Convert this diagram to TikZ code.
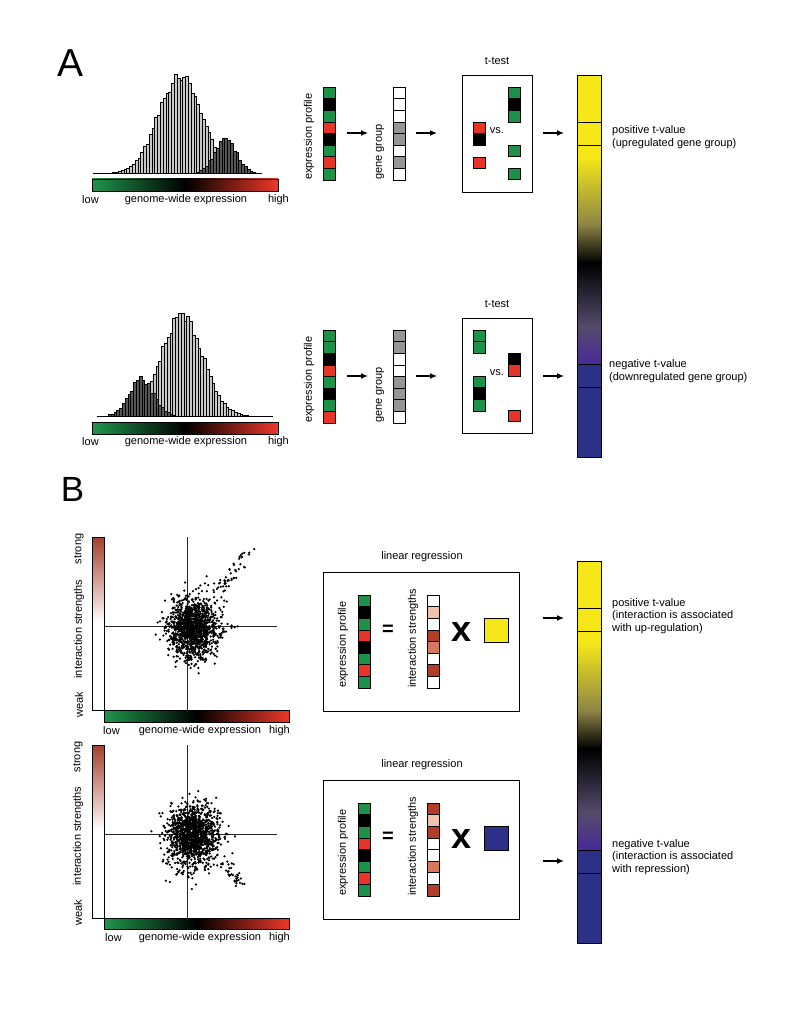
\documentclass[tikz,border=0pt]{standalone}
\usepackage{fontspec}
\setmainfont{Liberation Sans}
\usetikzlibrary{arrows.meta}
\definecolor{cgreen}{RGB}{28,146,72}
\definecolor{cred}{RGB}{232,52,38}
\definecolor{cgray}{RGB}{150,150,150}
\definecolor{ilight}{RGB}{240,195,175}
\definecolor{imid}{RGB}{215,120,90}
\definecolor{ibrown}{RGB}{178,62,42}
\definecolor{tyellow}{RGB}{246,232,24}
\definecolor{tolive}{RGB}{140,132,70}
\definecolor{tgrayp}{RGB}{85,75,108}
\definecolor{tpurple}{RGB}{72,42,150}
\definecolor{tblue}{RGB}{45,48,135}
\definecolor{hlight}{RGB}{200,200,200}
\definecolor{hdark}{RGB}{85,85,85}
\definecolor{sbrown}{RGB}{165,62,40}
\definecolor{gbgreen}{RGB}{30,150,75}
\definecolor{gbred}{RGB}{238,55,40}

\newcommand\cellcolumn[3]{%
  \foreach \cl [count=\ci from 0] in {#3}{%
    \path[cell, fill=\cl] (#1,{#2+\ci*11.625}) rectangle ++(12,11.625);}%
}
\newcommand\tbar[2]{%
  \fill[tyellow] (577,#1) rectangle (601,{#1+82});
  \shade[top color=tyellow, bottom color=tolive] (577,{#1+81.5}) rectangle (601,{#1+150});
  \shade[top color=tolive, bottom color=black] (577,{#1+149.5}) rectangle (601,{#1+188});
  \shade[top color=black, bottom color=tgrayp] (577,{#1+187.5}) rectangle (601,{#1+252});
  \shade[top color=tgrayp, bottom color=tpurple] (577,{#1+251.5}) rectangle (601,{#1+289});
  \fill[tblue] (577,{#1+289}) rectangle (601,{#1+382});
  \draw[bline] (577,#1) rectangle (601,{#1+382});
  \foreach \o in {47,70,289,312} \draw[bline] (577,{#1+\o}) -- (601,{#1+\o});
  \coordinate (#2) at (577,#1);
}
% gaussian scatter cloud: seed, cx, cy, sdx, sdy, count
\newcommand\cloud[6]{%
  \pgfmathsetseed{#1}
  \foreach \k in {1,...,#6}{
    \pgfmathsetmacro\ua{0.001+0.999*rnd}
    \pgfmathsetmacro\ub{360*rnd}
    \pgfmathsetmacro\rr{sqrt(-2*ln(\ua))}
    \pgfmathsetmacro\px{#2+#4*\rr*cos(\ub)}
    \pgfmathsetmacro\py{#3+#5*\rr*sin(\ub)}
    \fill[dot] (\px,\py) circle[radius=1.25pt];
  }%
}

\begin{document}
\begin{tikzpicture}[x=1pt,y=-1pt,
  lbl/.style={font=\fontsize{11}{12.5}\selectfont, inner sep=0, align=left},
  cell/.style={draw=black, line width=0.6pt},
  bline/.style={draw=black, line width=0.7pt},
  hbar/.style={draw=black, line width=0.35pt},
  arr/.style={-{Latex[length=7pt,width=6pt]}, line width=1.2pt},
  boxst/.style={draw=black, line width=0.8pt},
  axline/.style={draw=black!85, line width=0.7pt},
  dot/.style={fill=black}]
\useasboundingbox (0,0) rectangle (785,1016);

% ---------------- A ----------------
\node[font=\fontsize{39}{40}\selectfont, inner sep=0] (labA) at (71,63) {A};

% histogram A top
\pgfmathsetseed{5}
\foreach \i in {0,...,59}{
  \pgfmathsetmacro\xx{93+2.8*\i}
  \pgfmathsetmacro\sd{(\xx<178)?21:22}
  \pgfmathsetmacro\zz{min(0.5*((\xx-178)/\sd)*((\xx-178)/\sd),12)}
  \pgfmathsetmacro\hh{97*exp(-\zz)*(1+0.08*rand)}
  \ifdim\hh pt>0.6pt \path[hbar, fill=hlight] (\xx,173) rectangle ++(2.8,-\hh);\fi
}
\foreach \i in {0,...,59}{
  \pgfmathsetmacro\xx{93+2.8*\i}
  \pgfmathsetmacro\zz{min(0.5*((\xx-224)/11)*((\xx-224)/11),12)}
  \pgfmathsetmacro\hh{33*exp(-\zz)*(1+0.12*rand)}
  \ifdim\hh pt>0.8pt \path[hbar, fill=hdark] (\xx,173) rectangle ++(2.8,-\hh);\fi
}
\draw[line width=0.5pt] (93,173) -- (262,173);
\shade[left color=gbgreen, right color=gbred, middle color=black] (92,179) rectangle (278,191);
\draw[line width=0.5pt] (92,179) rectangle (278,191);
\node[lbl, anchor=west] (lowA1) at (82,200) {low};
\node[lbl] (gweA1) at (186,200) {genome-wide expression};
\node[lbl, anchor=east] (highA1) at (289,200) {high};

% columns A top
\node[lbl, rotate=90, anchor=west] (epA1) at (309,180) {expression profile};
\cellcolumn{323}{87}{cgreen,black,cgreen,cred,black,cgreen,cred,cgreen}
\coordinate (colEA1) at (323,87);
\node[lbl, rotate=90, anchor=west] (ggA1) at (380,180) {gene group};
\cellcolumn{393}{87}{white,white,white,cgray,cgray,white,cgray,white}
\coordinate (colGA1) at (393,87);
\coordinate (a1s) at (347,133); \coordinate (a1e) at (368,133);
\coordinate (a2s) at (416,133); \coordinate (a2e) at (437,133);
\coordinate (a3s) at (543,133); \coordinate (a3e) at (564,133);
\draw[arr] (a1s) -- (a1e);
\draw[arr] (a2s) -- (a2e);
\draw[arr] (a3s) -- (a3e);

% t-test box A top
\node[lbl] (ttA1) at (497,61) {t-test};
\draw[boxst] (462,75) rectangle (532,192);
\cellcolumn{473}{122}{cred,black}
\cellcolumn{473}{157}{cred}
\cellcolumn{508}{87}{cgreen,black,cgreen}
\cellcolumn{508}{145}{cgreen}
\cellcolumn{508}{168}{cgreen}
\node[lbl] (vsA1) at (497,131) {vs.};

% histogram A bottom
\pgfmathsetseed{9}
\foreach \i in {0,...,62}{
  \pgfmathsetmacro\xx{97+2.8*\i}
  \pgfmathsetmacro\sd{(\xx<180)?20:21}
  \pgfmathsetmacro\zz{min(0.5*((\xx-180)/\sd)*((\xx-180)/\sd),12)}
  \pgfmathsetmacro\hh{(\xx<146)?0:100*exp(-\zz)*(1+0.08*rand)}
  \ifdim\hh pt>0.6pt \path[hbar, fill=hlight] (\xx,416) rectangle ++(2.8,-\hh);\fi
}
\foreach \i in {0,...,62}{
  \pgfmathsetmacro\xx{97+2.8*\i}
  \pgfmathsetmacro\zz{min(0.5*((\xx-140)/12.5)*((\xx-140)/12.5),12)}
  \pgfmathsetmacro\hh{36*exp(-\zz)*(1+0.12*rand)}
  \ifdim\hh pt>0.8pt \path[hbar, fill=hdark] (\xx,416) rectangle ++(2.8,-\hh);\fi
}
\draw[line width=0.5pt] (97,416) -- (273,416);
\shade[left color=gbgreen, right color=gbred, middle color=black] (92,422) rectangle (278,434);
\draw[line width=0.5pt] (92,422) rectangle (278,434);
\node[lbl, anchor=west] (lowA2) at (82,442) {low};
\node[lbl] (gweA2) at (186,442) {genome-wide expression};
\node[lbl, anchor=east] (highA2) at (289,442) {high};

% columns A bottom
\node[lbl, rotate=90, anchor=west] (epA2) at (309,423) {expression profile};
\cellcolumn{323}{330}{cgreen,cgreen,black,cred,cgreen,black,cgreen,cred}
\coordinate (colEA2) at (323,330);
\node[lbl, rotate=90, anchor=west] (ggA2) at (380,423) {gene group};
\cellcolumn{393}{330}{cgray,cgray,white,white,cgray,cgray,cgray,white}
\coordinate (colGA2) at (393,330);
\coordinate (b1s) at (347,376); \coordinate (b1e) at (368,376);
\coordinate (b2s) at (416,376); \coordinate (b2e) at (437,376);
\coordinate (b3s) at (543,376); \coordinate (b3e) at (564,376);
\draw[arr] (b1s) -- (b1e);
\draw[arr] (b2s) -- (b2e);
\draw[arr] (b3s) -- (b3e);

% t-test box A bottom
\node[lbl] (ttA2) at (497,304) {t-test};
\draw[boxst] (462,318) rectangle (532,433);
\cellcolumn{473}{330}{cgreen,cgreen}
\cellcolumn{473}{376}{cgreen,black,cgreen}
\cellcolumn{508}{353}{black,cred}
\cellcolumn{508}{410}{cred}
\node[lbl] (vsA2) at (497,373) {vs.};

% colour bar A
\tbar{75}{tbarA}
\node[lbl, anchor=west] (posA) at (612,137) {positive t-value\\(upregulated gene group)};
\node[lbl, anchor=west] (negA) at (609,371) {negative t-value\\(downregulated gene group)};

% ---------------- B ----------------
\node[font=\fontsize{35}{36}\selectfont, inner sep=0] (labB) at (72.5,489.5) {B};

% scatter B top
\shade[top color=sbrown, bottom color=white] (92,537) rectangle (104,622);
\draw[line width=0.5pt] (92,537) rectangle (104,710);
\shade[left color=gbgreen, right color=gbred, middle color=black] (104,710) rectangle (289,722);
\draw[line width=0.5pt] (104,710) rectangle (289,722);
\draw[axline] (187,537) -- (187,710);
\draw[axline] (104,626) -- (277,626);
\cloud{21}{193}{628}{12.5}{15}{1300}
\pgfmathsetseed{41}
\foreach \k in {1,...,55}{
  \pgfmathsetmacro\tt{rnd}
  \pgfmathsetmacro\px{212+36*\tt+7*rand}
  \pgfmathsetmacro\py{600-50*\tt+6*rand}
  \fill[dot] (\px,\py) circle[radius=1.25pt];
}
\node[lbl, rotate=90] (stB1) at (79,549) {strong};
\node[lbl, rotate=90] (isB1) at (79,629) {interaction strengths};
\node[lbl, rotate=90] (wkB1) at (79,705) {weak};
\node[lbl, anchor=west] (lowB1) at (103,731) {low};
\node[lbl] (gweB1) at (200,731) {genome-wide expression};
\node[lbl, anchor=east] (highB1) at (290,731) {high};

% scatter B bottom
\shade[top color=sbrown, bottom color=white] (92,745) rectangle (104,830);
\draw[line width=0.5pt] (92,745) rectangle (104,918);
\shade[left color=gbgreen, right color=gbred, middle color=black] (104,918) rectangle (289,929);
\draw[line width=0.5pt] (104,918) rectangle (289,929);
\draw[axline] (187,745) -- (187,918);
\draw[axline] (104,834) -- (277,834);
\cloud{33}{193}{836}{12.5}{15}{1300}
\pgfmathsetseed{43}
\foreach \k in {1,...,40}{
  \pgfmathsetmacro\tt{rnd}
  \pgfmathsetmacro\px{212+31*\tt+6*rand}
  \pgfmathsetmacro\py{850+35*\tt+6*rand}
  \fill[dot] (\px,\py) circle[radius=1.25pt];
}
\node[lbl, rotate=90] (stB2) at (78,757) {strong};
\node[lbl, rotate=90] (isB2) at (78,836) {interaction strengths};
\node[lbl, rotate=90] (wkB2) at (78,913) {weak};
\node[lbl, anchor=west] (lowB2) at (105,938) {low};
\node[lbl] (gweB2) at (200,938) {genome-wide expression};
\node[lbl, anchor=east] (highB2) at (290,938) {high};

% regression box B top
\node[lbl] (lrB1) at (422,557) {linear regression};
\draw[boxst] (323,572) rectangle (519,711);
\node[lbl, rotate=90, anchor=west] (epB1) at (343,688) {expression profile};
\cellcolumn{358}{595}{cgreen,black,cgreen,cred,black,cgreen,cred,cgreen}
\node[font=\fontsize{20}{20}\selectfont\bfseries, inner sep=0] (eqB1) at (388,630) {=};
\node[lbl, rotate=90, anchor=west] (isrB1) at (413,688) {interaction strengths};
\cellcolumn{427}{595}{white,ilight,white,ibrown,imid,white,ibrown,white}
\node[font=\fontsize{36}{36}\selectfont\bfseries, inner sep=0] (xB1) at (462,632) {x};
\node[draw=black, line width=0.7pt, fill=tyellow, minimum size=24pt, inner sep=0, anchor=north west] (sqB1) at (484,618) {};
\coordinate (c1s) at (543,618); \coordinate (c1e) at (564,618);
\draw[arr] (c1s) -- (c1e);

% regression box B bottom
\node[lbl] (lrB2) at (422,765) {linear regression};
\draw[boxst] (323,780) rectangle (519,919);
\node[lbl, rotate=90, anchor=west] (epB2) at (343,896) {expression profile};
\cellcolumn{358}{803}{cgreen,black,cgreen,cred,black,cgreen,cred,cgreen}
\node[font=\fontsize{20}{20}\selectfont\bfseries, inner sep=0] (eqB2) at (388,837) {=};
\node[lbl, rotate=90, anchor=west] (isrB2) at (413,896) {interaction strengths};
\cellcolumn{427}{803}{ibrown,ilight,ibrown,white,white,imid,white,ibrown}
\node[font=\fontsize{36}{36}\selectfont\bfseries, inner sep=0] (xB2) at (462,839) {x};
\node[draw=black, line width=0.7pt, fill=tblue, minimum size=24pt, inner sep=0, anchor=north west] (sqB2) at (484,826) {};
\coordinate (c2s) at (543,861); \coordinate (c2e) at (564,861);
\draw[arr] (c2s) -- (c2e);

% colour bar B
\tbar{561}{tbarB}
\node[lbl, anchor=west] (posB) at (612,616) {positive t-value\\(interaction is associated\\with up-regulation)};
\node[lbl, anchor=west] (negB) at (612,857) {negative t-value\\(interaction is associated\\with repression)};
\end{tikzpicture}
\end{document}
